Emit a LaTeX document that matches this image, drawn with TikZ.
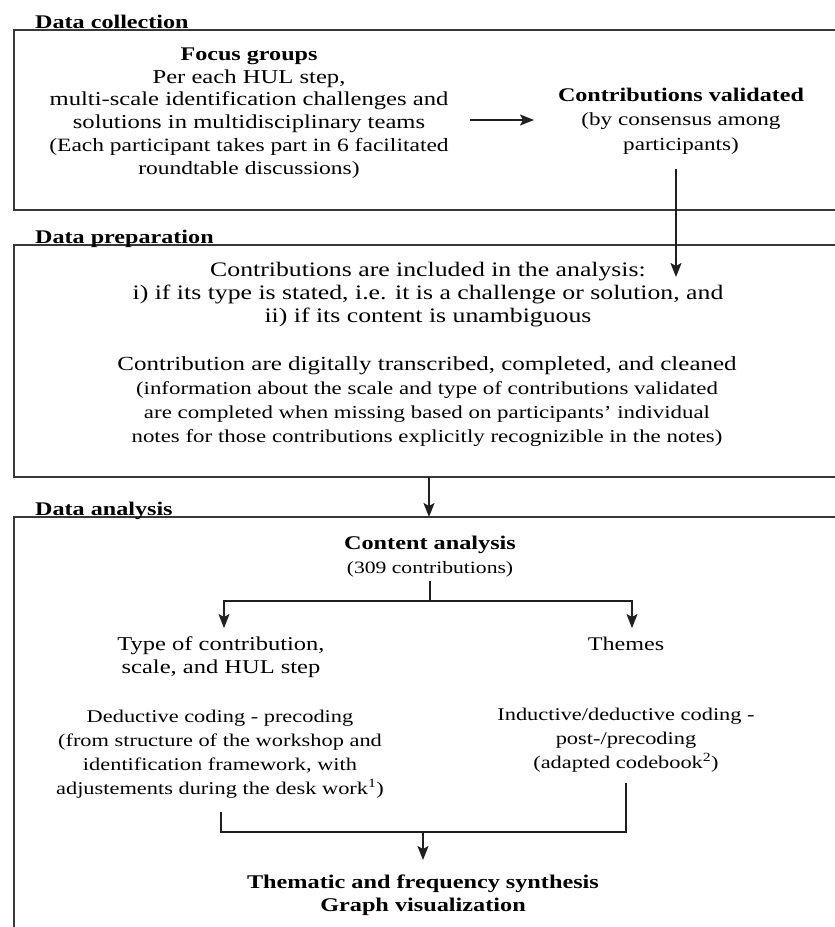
\documentclass[tikz,border=0pt]{standalone}
\usepackage{fontspec}
\setmainfont{Liberation Serif}[FakeStretch=1.25]
\usetikzlibrary{arrows.meta}
\newcommand\myfs[2]{\fontsize{#1}{#2}\selectfont}
\tikzset{
  frame/.style={draw=black!78, line width=1.2pt},
  conn/.style={draw=black!88, line width=1.5pt},
  arr/.style={conn, -{Stealth[length=14pt,width=11pt,inset=3pt]}},
  lbl/.style={anchor=base west, inner sep=0pt, font=\myfs{19.3}{23}\bfseries},
  txt/.style={anchor=base, inner sep=0pt, align=center},
}
\begin{document}
\begin{tikzpicture}[x=1pt,y=-1pt]
\useasboundingbox (0,0) rectangle (835,927);
% frames
\draw[frame] (845,30) -- (14,30) -- (14,210) -- (845,210);
\draw[frame] (845,245) -- (14,245) -- (14,477) -- (845,477);
\draw[frame] (845,517) -- (14,517) -- (14,935);
% labels
\node[lbl] (lcoll) at (35,28) {Data collection};
\node[lbl] (lprep) at (35,243) {Data preparation};
\node[lbl] (lana) at (35,515) {Data analysis};
% data collection (anchor = baseline of last line)
\node[txt, font=\myfs{19.7}{22.7}] (focus) at (249,174) {{\myfs{19.3}{22.7}\bfseries Focus groups}\\Per each HUL step,\\multi-scale identification challenges and\\solutions in multidisciplinary teams\\{\myfs{18.8}{22.7}(Each participant takes part in 6 facilitated}\\{\myfs{18.8}{22.7}roundtable discussions)}};
\node[txt, font=\myfs{18.5}{24.5}] (valid) at (681,150) {{\myfs{19.3}{24.5}\bfseries Contributions validated}\\(by consensus among\\participants)};
% data preparation
\node[txt, font=\myfs{20.6}{23}] (prep1) at (428,322) {Contributions are included in the analysis:\\i) if its type is stated, i.e. it is a challenge or solution, and\\ii) if its content is unambiguous};
\node[txt, font=\myfs{20}{24}] (prep2) at (427,442) {Contribution are digitally transcribed, completed, and cleaned\\{\myfs{18.3}{24}(information about the scale and type of contributions validated}\\{\myfs{18.3}{24}are completed when missing based on participants' individual}\\{\myfs{18.3}{24}notes for those contributions explicitly recognizible in the notes)}};
% data analysis
\node[txt, font=\myfs{17.3}{24}] (content) at (430,573) {{\myfs{19.4}{24}\bfseries Content analysis}\\(309 contributions)};
\node[txt, font=\myfs{19.6}{23}] (typ) at (221,673) {Type of contribution,\\scale, and HUL step};
\node[txt, font=\myfs{19.3}{23}] (themes) at (626,650) {Themes};
\node[txt, font=\myfs{17.9}{23.7}] (deduct) at (220,794) {Deductive coding - precoding\\(from structure of the workshop and\\identification framework, with\\adjustements during the desk work\textsuperscript{1})};
\node[txt, font=\myfs{17.9}{24}] (induct) at (626,768) {Inductive/deductive coding -\\post-/precoding\\(adapted codebook\textsuperscript{2})};
\node[txt, font=\myfs{19.4}{23}\bfseries] (synth) at (423,911) {Thematic and frequency synthesis\\Graph visualization};
% connectors
\coordinate (c1a) at (470,120); \coordinate (c1b) at (534,120);
\draw[arr] (c1a) -- (c1b);
\coordinate (c2a) at (676,169); \coordinate (c2b) at (676,277);
\draw[arr] (c2a) -- (c2b);
\coordinate (c3a) at (429,477); \coordinate (c3b) at (429,517);
\draw[arr] (c3a) -- (c3b);
\coordinate (f0) at (430,581); \coordinate (f1) at (430,601);
\coordinate (fl) at (224,628); \coordinate (fr) at (632,628);
\draw[conn] (f0) -- (f1);
\draw[arr] (f1) -| (fl);
\draw[arr] (f1) -| (fr);
\coordinate (jl) at (221,812); \coordinate (jr) at (626,783);
\coordinate (jm) at (423,832); \coordinate (jt) at (423,860);
\draw[conn] (jl) |- (jm) -| (jr);
\draw[arr] (jm) -- (jt);
\end{tikzpicture}
\end{document}
